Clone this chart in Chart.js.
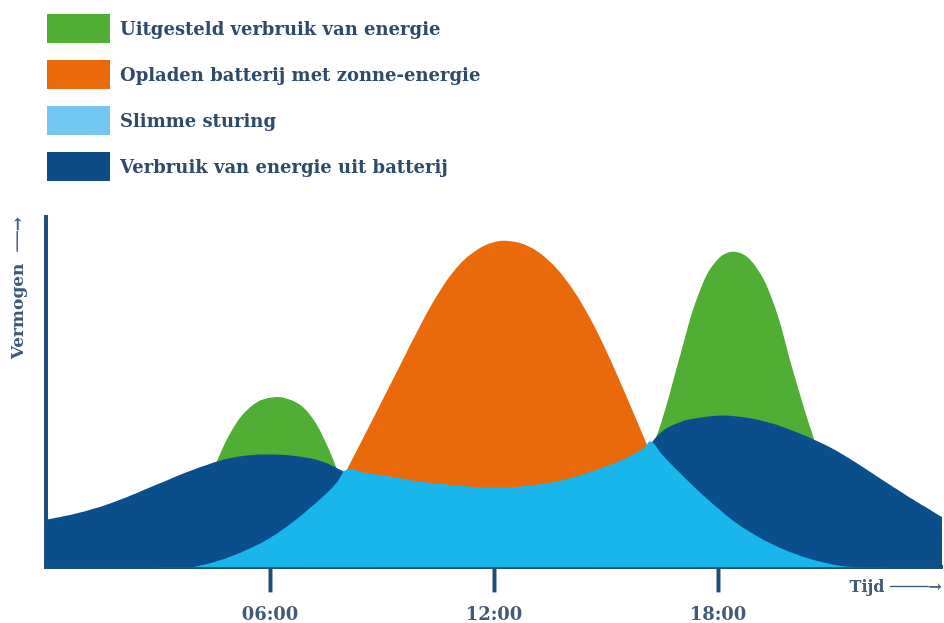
<!DOCTYPE html>
<html>
<head>
<meta charset="utf-8">
<script src="https://cdn.jsdelivr.net/npm/chart.js@4.4.1/dist/chart.umd.min.js"></script>
<style>
  html, body { margin: 0; padding: 0; background: #ffffff; }
  #wrap { position: relative; width: 944px; height: 623px; overflow: hidden; }
  #chart { position: absolute; left: 0; top: 0; }
  .lg { position: absolute; left: 47px; height: 29px; display: flex; align-items: center; }
  .lg .box { width: 63px; height: 29px; margin-right: 10px; }
  .lg .txt { font-family: "DejaVu Serif", serif; font-weight: bold; font-size: 18px; color: #2e4b6c; white-space: nowrap; }
</style>
</head>
<body>
<div id="wrap">
  <canvas id="chart" width="944" height="623"></canvas>
  <div id="legend"></div>
</div>
<script>
// ---- data ----
const seriesNames = [
  'Uitgesteld verbruik van energie',
  'Opladen batterij met zonne-energie',
  'Slimme sturing',
  'Verbruik van energie uit batterij'
];
const tickHours = [6, 12, 18];
const tickLabels = ['06:00', '12:00', '18:00'];

const greenHours  = [3, 3.5, 4, 4.5, 5, 5.5, 6, 6.5, 7, 7.5, 8, 8.5, 9, 14.5, 15, 15.5, 16, 16.5, 17, 17.5, 18, 18.5, 19, 19.5, 20, 20.5, 21, 21.5, 22, 22.5];
const greenValues = [0, 6, 17, 28.5, 39.5, 46, 48.4, 48, 44.5, 35.5, 22, 8, 0, 0, 3, 14, 27.5, 42, 61, 78.5, 88, 90, 86, 75, 56.5, 39, 24, 11, 2, 0];

const orangeHours  = [6.8, 7.5, 8, 8.5, 9, 9.5, 10, 10.5, 11, 11.5, 12, 12.5, 13, 13.5, 14, 14.5, 15, 15.5, 16, 16.5, 17, 17.5];
const orangeValues = [0, 15, 26.5, 37, 47.5, 58, 68.5, 78, 85.5, 90.3, 92.8, 93, 91.2, 87.2, 81, 72.5, 62, 50, 37.5, 25, 12.5, 0];

const lightHours  = [3.9, 4.5, 5, 5.5, 6, 6.5, 7, 7.5, 7.8, 8.05, 8.5, 9.4, 10, 11, 12, 13, 14, 15, 15.5, 16, 16.2, 16.5, 17, 17.5, 18, 18.5, 19, 19.5, 20, 20.5, 21, 21.5, 22];
const lightValues = [0, 1.5, 3.3, 5.6, 8.4, 12, 16.3, 21, 24.4, 27.9, 27.1, 25.6, 24.5, 23.4, 22.8, 23.4, 25.4, 28.8, 31, 33.9, 35.9, 32.2, 26.7, 21.6, 16.9, 12.6, 9.2, 6.4, 4.1, 2.3, 1.0, 0.2, 0];

const darkHours  = [0, 1, 2, 3, 4, 5, 6, 7, 7.5, 8, 9, 10, 11, 12, 13, 14, 15, 16, 16.5, 17, 17.5, 18, 18.5, 19, 19.5, 20, 20.5, 21, 21.5, 22, 22.5, 23, 23.5, 24];
const darkValues = [13.6, 15.9, 19.4, 23.8, 28.1, 31.3, 32.2, 31.3, 29.8, 27.2, 22, 18.5, 16.5, 16, 17, 19.5, 25, 33, 38.8, 41.5, 42.7, 43.3, 43.1, 42.3, 40.9, 39, 36.8, 34.3, 31.2, 27.8, 24.3, 20.9, 17.6, 14.4];

// ---- styles ----
const fillColors   = ['#4fae33', '#ea690b', '#19b6eb', '#0a4f8c'];
const legendColors = ['#4fae33', '#ea690b', '#74c7f1', '#0d4b87'];
const drawOrder    = [4, 3, 1, 2];
const axisColor = '#214d7a';
const textColor = '#3f5b78';
const fontFamily = '"DejaVu Serif", "DejaVu Sans", serif';

const pts = (hs, vs) => hs.map((h, i) => ({ x: h, y: vs[i] }));
const seriesData = [
  pts(greenHours, greenValues),
  pts(orangeHours, orangeValues),
  pts(lightHours, lightValues),
  pts(darkHours, darkValues)
];

// legend (HTML)
const legendEl = document.getElementById('legend');
seriesNames.forEach((name, i) => {
  const row = document.createElement('div');
  row.className = 'lg';
  row.style.top = (14 + i * 46) + 'px';
  const b = document.createElement('div');
  b.className = 'box';
  b.style.background = legendColors[i];
  const t = document.createElement('span');
  t.className = 'txt';
  t.textContent = name;
  row.appendChild(b); row.appendChild(t);
  legendEl.appendChild(row);
});

const ctx = document.getElementById('chart').getContext('2d');
new Chart(ctx, {
  type: 'line',
  data: {
    datasets: seriesNames.map((name, i) => ({
      label: name,
      data: seriesData[i],
      fill: 'origin',
      backgroundColor: fillColors[i],
      borderColor: fillColors[i],
      borderWidth: 0,
      pointRadius: 0,
      tension: 0.4,
      order: drawOrder[i]
    }))
  },
  options: {
    responsive: false,
    animation: false,
    devicePixelRatio: 1,
    layout: { padding: { top: 217, left: 4, right: 2, bottom: 0 } },
    plugins: {
      legend: { display: false },
      tooltip: { enabled: false }
    },
    scales: {
      x: {
        type: 'linear',
        min: 0,
        max: 24,
        afterBuildTicks: (s) => { s.ticks = tickHours.map(v => ({ value: v })); },
        ticks: {
          autoSkip: false,
          maxRotation: 0,
          padding: 12,
          color: textColor,
          font: { family: fontFamily, size: 18, weight: 'bold' },
          callback: (v, i) => tickLabels[i]
        },
        grid: {
          display: true,
          drawOnChartArea: false,
          drawTicks: true,
          tickLength: 25,
          tickWidth: 4,
          tickColor: axisColor
        },
        border: { display: true, color: axisColor, width: 4 },
        title: {
          display: true,
          text: 'Tijd ────→',
          align: 'end',
          color: textColor,
          font: { family: fontFamily, size: 16, weight: 'bold' },
          padding: { top: -59.6, bottom: 25.4 }
        }
      },
      y: {
        min: 0,
        max: 100,
        ticks: { display: false },
        grid: { display: false, drawTicks: false },
        border: { display: true, color: axisColor, width: 4 },
        title: {
          display: true,
          text: 'Vermogen  ──→',
          align: 'end',
          color: textColor,
          font: { family: fontFamily, size: 17, weight: 'bold' },
          padding: { top: 4.8, bottom: 16.8 }
        }
      }
    }
  }
});
</script>
</body>
</html>
